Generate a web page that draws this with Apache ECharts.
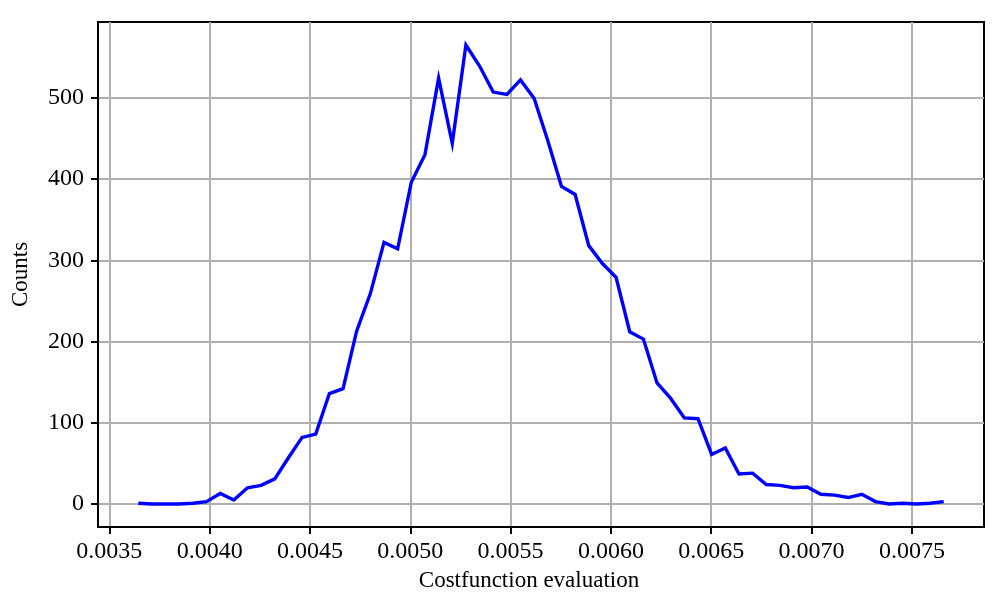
<!DOCTYPE html>
<html>
<head>
<meta charset="utf-8">
<script src="https://cdn.jsdelivr.net/npm/echarts@6/dist/echarts.min.js"></script>
<style>
html,body{margin:0;padding:0;background:#fff;}
#chart{width:1000px;height:608px;}
</style>
</head>
<body>
<div id="chart"></div>
<script>
// Bin centres (Costfunction evaluation)
var costValues = [
  0.0036443, 0.0037123, 0.0037804, 0.0038484, 0.0039165, 0.0039845, 0.0040525, 0.0041206, 0.0041886, 0.0042567,
  0.0043247, 0.0043927, 0.0044608, 0.0045288, 0.0045969, 0.0046649, 0.0047329, 0.0048010, 0.0048690, 0.0049371,
  0.0050051, 0.0050731, 0.0051412, 0.0052092, 0.0052773, 0.0053453, 0.0054133, 0.0054814, 0.0055494, 0.0056175,
  0.0056855, 0.0057535, 0.0058216, 0.0058896, 0.0059577, 0.0060257, 0.0060937, 0.0061618, 0.0062298, 0.0062979,
  0.0063659, 0.0064339, 0.0065020, 0.0065700, 0.0066381, 0.0067061, 0.0067741, 0.0068422, 0.0069102, 0.0069783,
  0.0070463, 0.0071143, 0.0071824, 0.0072504, 0.0073185, 0.0073865, 0.0074545, 0.0075226, 0.0075906, 0.0076587
];
// Counts per bin
var counts = [
  1, 0, 0, 0, 1, 3, 13, 5, 20, 23,
  31, 57, 82, 86, 136, 142, 213, 259, 322, 314,
  396, 430, 524, 444, 565, 539, 507, 504, 522, 499,
  447, 391, 381, 318, 296, 279, 212, 203, 149, 130,
  106, 105, 61, 69, 37, 38, 24, 23, 20, 21,
  12, 11, 8, 12, 3, 0, 1, 0, 1, 3
];
var xTicks = [0.0035, 0.0040, 0.0045, 0.0050, 0.0055, 0.0060, 0.0065, 0.0070, 0.0075];
var yTicks = [0, 100, 200, 300, 400, 500];
var xTitle = 'Costfunction evaluation';
var yTitle = 'Counts';

var seriesData = costValues.map(function (x, i) { return [x, counts[i]]; });

var FONT = '"Liberation Serif", "DejaVu Serif", serif';
var chart = echarts.init(document.getElementById('chart'), null, {renderer: 'canvas'});
chart.setOption({
  animation: false,
  backgroundColor: '#ffffff',
  grid: {
    left: 98, right: 16, top: 22, bottom: 81,
    show: true, borderColor: '#000', borderWidth: 2, backgroundColor: 'transparent'
  },
  xAxis: {
    type: 'value',
    min: 0.0034436, max: 0.0078594,
    name: xTitle, nameLocation: 'middle', nameGap: 42,
    nameTextStyle: {fontFamily: FONT, fontSize: 23, color: '#000', padding: [0, 24, 0, 0]},
    axisLine: {show: true, onZero: false, lineStyle: {color: '#000', width: 2}},
    axisTick: {show: true, length: 7, customValues: xTicks, lineStyle: {color: '#000', width: 2}},
    axisLabel: {customValues: xTicks, margin: 13, fontFamily: FONT, fontSize: 24, color: '#000',
      formatter: function (v) { return v.toFixed(4); }},
    splitLine: {show: true, customValues: xTicks, lineStyle: {color: '#b0b0b0', width: 2}}
  },
  yAxis: {
    type: 'value',
    min: -28.25, max: 593.25,
    name: yTitle, nameLocation: 'middle', nameGap: 66, nameRotate: 90,
    nameTextStyle: {fontFamily: FONT, fontSize: 23, color: '#000'},
    axisLine: {show: true, onZero: false, lineStyle: {color: '#000', width: 2}},
    axisTick: {show: true, length: 7, customValues: yTicks, lineStyle: {color: '#000', width: 2}},
    axisLabel: {customValues: yTicks, margin: 14, fontFamily: FONT, fontSize: 24, color: '#000'},
    splitLine: {show: true, customValues: yTicks, lineStyle: {color: '#b0b0b0', width: 2}}
  },
  series: [{
    type: 'line',
    data: seriesData,
    showSymbol: false,
    symbol: 'none',
    lineStyle: {color: '#0000ff', width: 3.4, join: 'miter'},
    z: 5
  }]
});
</script>
</body>
</html>
